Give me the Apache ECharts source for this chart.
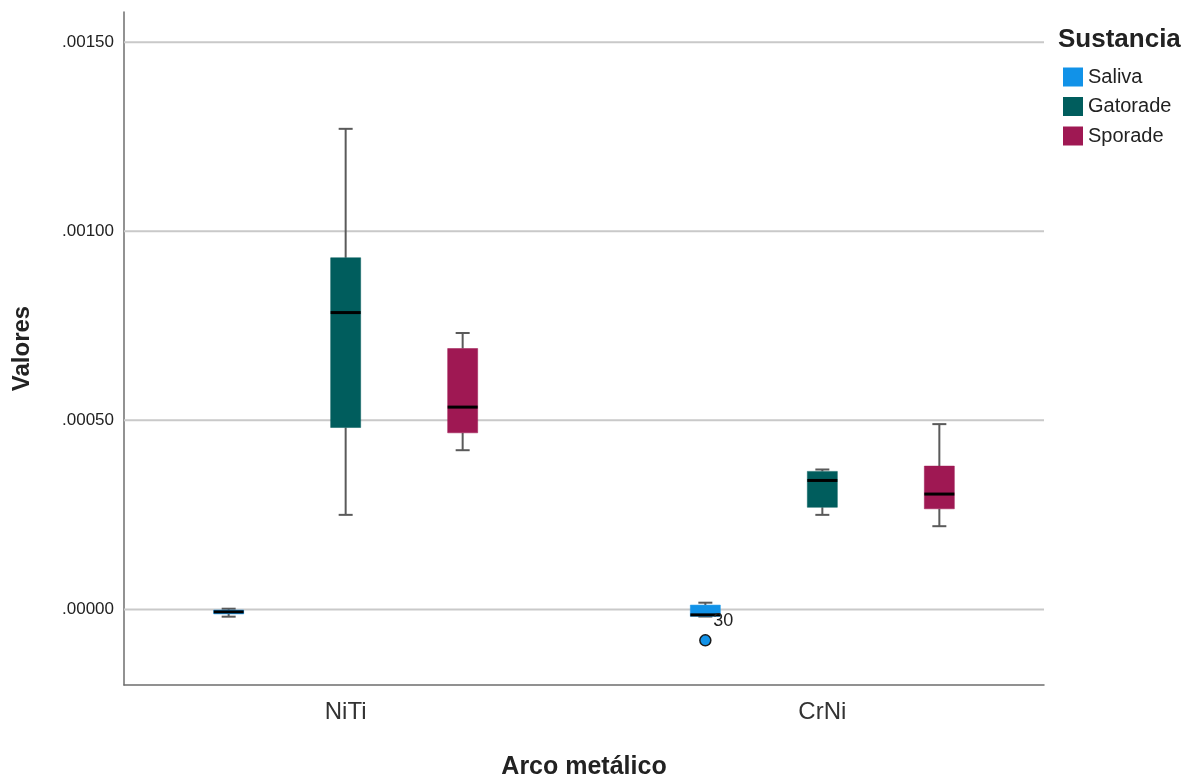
<!DOCTYPE html>
<html>
<head>
<meta charset="utf-8">
<title>Arco metálico</title>
<script src="https://cdn.jsdelivr.net/npm/echarts@6/dist/echarts.min.js"></script>
<style>
  html, body { margin: 0; padding: 0; background: #fff; }
  #main { width: 1195px; height: 780px; }
</style>
</head>
<body>
<div id="main"></div>
<script>
// categories on the x axis (index 0 = NiTi, 1 = CrNi)
var categories = ['NiTi', 'CrNi'];
var substances = ['Saliva', 'Gatorade', 'Sporade'];
var colors = ['#1192e8', '#005d5d', '#9f1853'];

// [categoryIndex, min, Q1, median, Q3, max]
var saliva = [
  [0, -0.0000193, -0.0000120, -0.0000066, -0.0000018, 0.0000018],
  [1, -0.0000190, -0.0000185, -0.0000145, 0.0000114, 0.0000177]
];
var gatorade = [
  [0, 0.000250, 0.000481, 0.000785, 0.000930, 0.001271],
  [1, 0.000250, 0.000270, 0.000341, 0.000365, 0.000370]
];
var sporade = [
  [0, 0.000421, 0.000467, 0.000535, 0.000690, 0.000731],
  [1, 0.000220, 0.000266, 0.000305, 0.000379, 0.000490]
];
// outliers: [categoryIndex, value, case label]
var salivaOutliers = [
  [1, -0.0000819, '30']
];
// y values of the horizontal reference lines
var gridValues = [0, 0.0005, 0.0010, 0.0015];

var FONT = "'Liberation Sans', Arial, sans-serif";
var BOX_W = 30;
var CAP_W = 14;
var GROUP_STEP = 117;  // px between boxes inside a group
var offsets = [-GROUP_STEP, 0, GROUP_STEP];

function boxRenderer(offset) {
  return function (params, api) {
    var x = api.coord([api.value(0), 0])[0] + offset;
    var yMin = api.coord([0, api.value(1)])[1];
    var yQ1 = api.coord([0, api.value(2)])[1];
    var yMed = api.coord([0, api.value(3)])[1];
    var yQ3 = api.coord([0, api.value(4)])[1];
    var yMax = api.coord([0, api.value(5)])[1];
    var color = api.visual('color');
    var whisker = { stroke: '#5a5a5a', lineWidth: 2 };
    return {
      type: 'group',
      children: [
        { type: 'line', shape: { x1: x, y1: yMax, x2: x, y2: yQ3 }, style: whisker },
        { type: 'line', shape: { x1: x, y1: yQ1, x2: x, y2: yMin }, style: whisker },
        { type: 'line', shape: { x1: x - CAP_W / 2, y1: yMax, x2: x + CAP_W / 2, y2: yMax }, style: whisker },
        { type: 'line', shape: { x1: x - CAP_W / 2, y1: yMin, x2: x + CAP_W / 2, y2: yMin }, style: whisker },
        { type: 'rect', shape: { x: x - BOX_W / 2, y: yQ3, width: BOX_W, height: Math.max(yQ1 - yQ3, 1) },
          style: { fill: color, stroke: color, lineWidth: 0.5 } },
        { type: 'line', shape: { x1: x - BOX_W / 2, y1: yMed, x2: x + BOX_W / 2, y2: yMed },
          style: { stroke: '#000', lineWidth: 3 } }
      ]
    };
  };
}

function outlierRenderer(offset) {
  return function (params, api) {
    var p = api.coord([api.value(0), api.value(1)]);
    var x = p[0] + offset;
    return {
      type: 'group',
      children: [
        { type: 'circle', shape: { cx: x, cy: p[1], r: 5.5 },
          style: { fill: api.visual('color'), stroke: '#1a1a1a', lineWidth: 1.5 } },
        { type: 'text', x: x + 8, y: p[1] - 19,
          style: { text: api.value(2), fill: '#222', font: '18px ' + FONT, verticalAlign: 'middle' } }
      ]
    };
  };
}

function gridRenderer(params, api) {
  var y = api.coord([0, api.value(0)])[1];
  var cs = params.coordSys;
  return {
    type: 'line',
    shape: { x1: cs.x, y1: y, x2: cs.x + cs.width, y2: y },
    style: { stroke: '#c9c9c9', lineWidth: 2 }
  };
}

function fmtY(v) {
  var r = v / 0.0005;
  if (Math.abs(r - Math.round(r)) > 1e-6) return '';
  return Math.abs(v).toFixed(5).slice(1);
}

var series = [{
  name: 'grid',
  type: 'custom',
  z: 1,
  silent: true,
  renderItem: gridRenderer,
  encode: { y: 0 },
  data: gridValues.map(function (v) { return [v]; })
}];
var lists = [saliva, gatorade, sporade];
for (var i = 0; i < substances.length; i++) {
  series.push({
    name: substances[i],
    type: 'custom',
    z: 3,
    itemStyle: { color: colors[i] },
    renderItem: boxRenderer(offsets[i]),
    encode: { x: 0, y: [1, 2, 3, 4, 5] },
    data: lists[i]
  });
}
series.push({
  name: 'Saliva outliers',
  type: 'custom',
  z: 4,
  itemStyle: { color: colors[0] },
  renderItem: outlierRenderer(offsets[0]),
  encode: { x: 0, y: 1 },
  data: salivaOutliers
});

var chart = echarts.init(document.getElementById('main'));
chart.setOption({
  backgroundColor: '#fff',
  animation: false,
  textStyle: { fontFamily: FONT },
  title: {
    text: 'Sustancia',
    left: 1058,
    top: 27,
    padding: 0,
    textStyle: { fontSize: 26, fontWeight: 'bold', color: '#222', fontFamily: FONT }
  },
  legend: {
    data: substances,
    orient: 'vertical',
    left: 1063,
    top: 67,
    padding: 0,
    itemWidth: 20,
    itemHeight: 19,
    itemGap: 9.5,
    icon: 'rect',
    textStyle: { fontSize: 20, lineHeight: 19, color: '#222', fontFamily: FONT }
  },
  grid: { left: 124, right: 151, top: 12, bottom: 95, outerBoundsMode: 'none', containLabel: false },
  xAxis: {
    type: 'value',
    min: -0.465,
    max: 1.465,
    name: 'Arco metálico',
    nameLocation: 'middle',
    nameGap: 70,
    nameTextStyle: { fontSize: 25, fontWeight: 'bold', color: '#222', fontFamily: FONT },
    axisLine: { show: true, onZero: false, lineStyle: { color: '#6e6e6e', width: 1.5 } },
    axisTick: { show: false },
    splitLine: { show: false },
    axisLabel: {
      customValues: [0, 1],
      fontSize: 24,
      color: '#333',
      margin: 15,
      formatter: function (v) {
        var idx = Math.round(v);
        return Math.abs(v - idx) < 1e-6 && categories[idx] ? categories[idx] : '';
      }
    }
  },
  yAxis: {
    type: 'value',
    min: -0.0002,
    max: 0.00158,
    interval: 0.0001,
    name: 'Valores',
    nameLocation: 'middle',
    nameRotate: 90,
    nameGap: 90,
    nameTextStyle: { fontSize: 24, fontWeight: 'bold', color: '#222', fontFamily: FONT },
    axisLine: { show: true, onZero: false, lineStyle: { color: '#6e6e6e', width: 1.5 } },
    axisTick: { show: false },
    splitLine: { show: false },
    axisLabel: { fontSize: 17, color: '#222', margin: 10, formatter: fmtY }
  },
  series: series
});
</script>
</body>
</html>
